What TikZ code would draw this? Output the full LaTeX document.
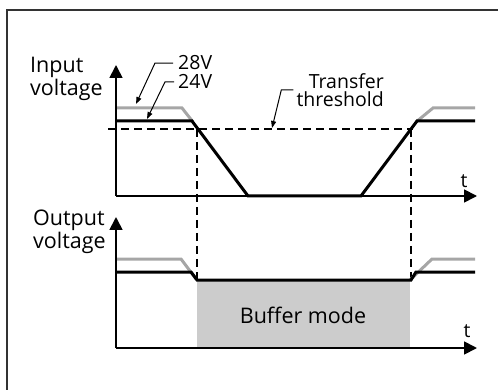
\documentclass[tikz,border=0pt]{standalone}
\usepackage{fontspec}
\setmainfont{Open Sans}
\usepackage{tikz}
\usetikzlibrary{arrows.meta,positioning,calc}

\definecolor{framegray}{HTML}{333333}
\definecolor{hivolt}{HTML}{A6A6A6}
\definecolor{bufgray}{HTML}{CCCCCC}

\tikzset{
  axis/.style={line width=1.8pt, -{Triangle[length=13pt,width=13pt]}},
  sig/.style={line width=3pt},
  sighi/.style={line width=3pt, hivolt},
  thresh/.style={line width=1.6pt, dash pattern=on 8pt off 5pt},
  leader/.style={line width=1pt, -{Triangle[length=7pt,width=5pt]}},
  lbl/.style={font=\fontsize{21.5}{21}\selectfont, inner sep=0pt, align=left},
  small/.style={font=\fontsize{19.5}{18}\selectfont, inner sep=0pt},
}

\begin{document}
\begin{tikzpicture}[x=1pt, y=-1pt]
  \useasboundingbox (0,0) rectangle (498,390);
  \clip (0,0) rectangle (498,390);
  % outer frame (runs off the page)
  \draw[framegray, line width=2pt] (7,420) -- (7,10) -- (530,10);

  % Input voltage
  \coordinate (inorig) at (116,196);
  \draw[thresh] (108,129) -- (413,129);
  \draw[thresh] (197,129) -- (197,280);
  \draw[thresh] (411,129) -- (411,280);
  \draw[sighi] (116,108) -- (182,108) -- (193,122);
  \draw[sighi] (416,122) -- (433,108) -- (475,108);
  \draw[sig] (116,121) -- (192,121) -- (248,196) -- (361,196) -- (417,121) -- (475,121);
  \draw[axis] (inorig) -- (116,65);
  \draw[axis] (inorig) -- (477,196);
  \node[lbl, anchor=north west] (inlbl) at (30,57) {Input\\voltage};
  \node[small] (tin) at (464,181) {t};

  \node[small, anchor=base west] (lbl28) at (178,70) {28V};
  \node[small, anchor=base west] (lbl24) at (178,89) {24V};
  \coordinate (tip28) at (136,104);
  \coordinate (tip24) at (147,119);
  \draw[leader] ([xshift=-5pt]lbl28.west) -- ++(-18,0) -- (tip28);
  \draw[leader] ([xshift=-4pt]lbl24.west) -- ++(-9,0) -- (tip24);

  \node[small, align=right, anchor=east] (lblthr) at (384,90) {Transfer\\threshold};
  \coordinate (tipthr) at (272,128);
  \draw[leader] ([xshift=-3pt]lblthr.west) -- ++(-12,0) -- (tipthr);

  % Output voltage
  \coordinate (outorig) at (116,348);
  \fill[bufgray] (197,280) rectangle (410,348);
  \node[lbl] (bufmode) at (303,315) {Buffer mode};
  \draw[sighi] (116,259) -- (181,259) -- (196,279);
  \draw[sighi] (410,280) -- (432,259) -- (475,259);
  \draw[sig] (116,272) -- (191,272) -- (197,280) -- (411,280) -- (416,272) -- (475,272);
  \draw[axis] (outorig) -- (116,217);
  \draw[axis] (outorig) -- (477,348);
  \node[lbl, anchor=north west] (outlbl) at (33,210) {Output\\voltage};
  \node[small] (tout) at (467,331) {t};
\end{tikzpicture}
\end{document}
